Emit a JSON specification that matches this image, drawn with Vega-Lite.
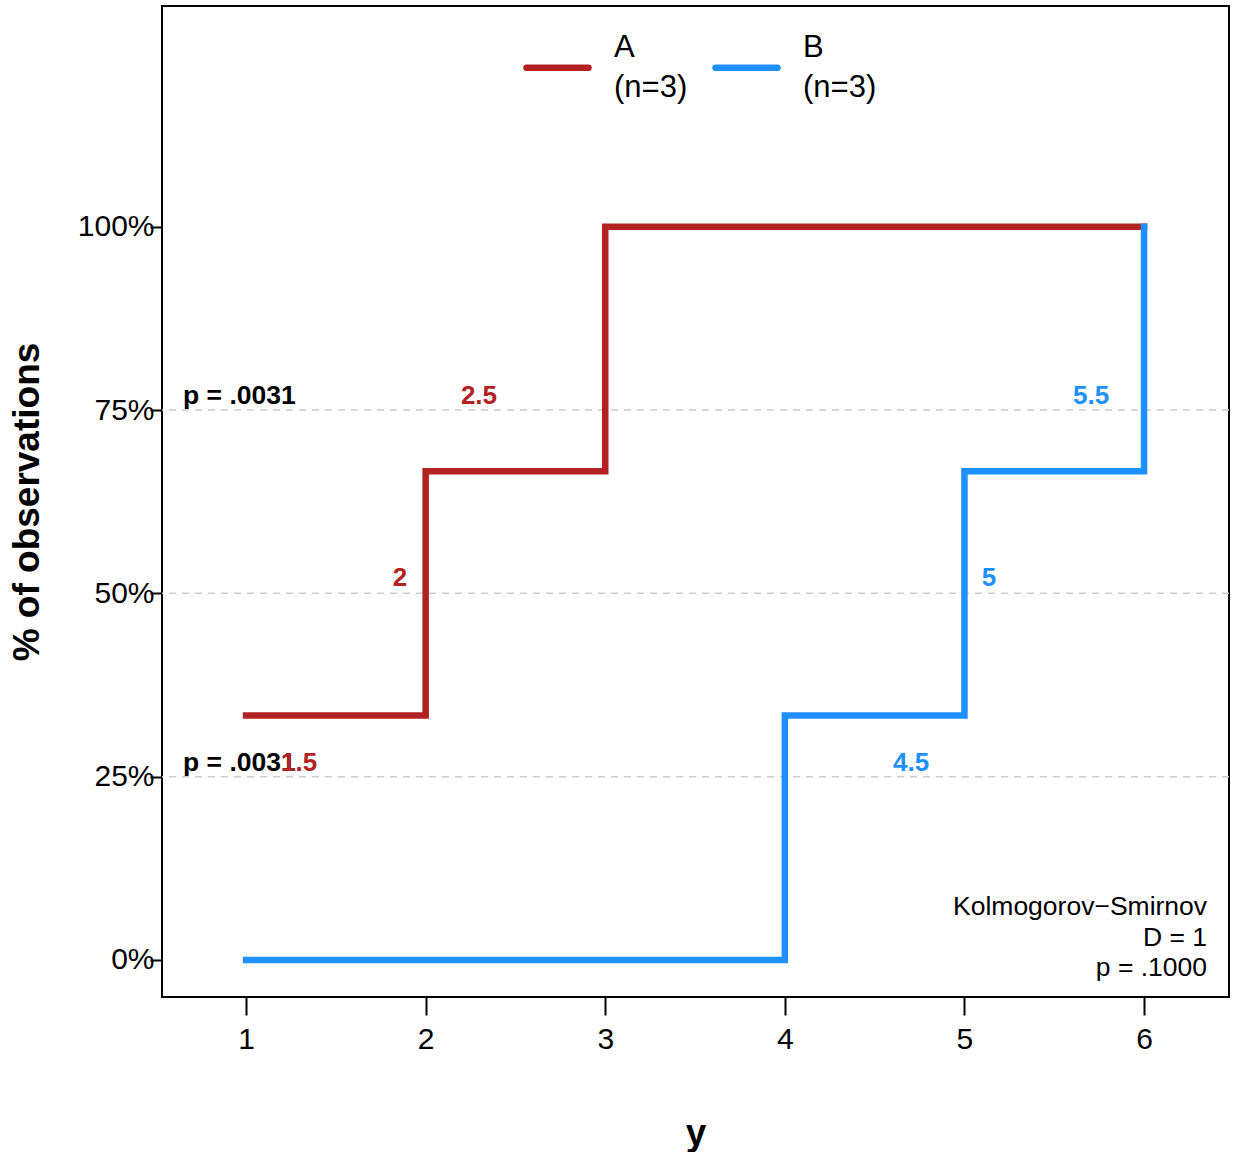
{
  "$schema": "https://vega.github.io/schema/vega-lite/v6.json",
  "width": 1067,
  "height": 991,
  "autosize": {"type": "none"},
  "padding": {"left": 162, "top": 6, "right": 8, "bottom": 155},
  "background": "white",
  "config": {
    "view": {"stroke": "black", "strokeWidth": 2},
    "font": "Liberation Sans"
  },
  "datasets": {
    "steps": [
      {"group": "A", "y": 1, "pct": 33.333},
      {"group": "A", "y": 2, "pct": 66.667},
      {"group": "A", "y": 3, "pct": 100},
      {"group": "A", "y": 6, "pct": 100},
      {"group": "B", "y": 1, "pct": 0},
      {"group": "B", "y": 4, "pct": 33.333},
      {"group": "B", "y": 5, "pct": 66.667},
      {"group": "B", "y": 6, "pct": 100}
    ],
    "grid": [{"pct": 25}, {"pct": 50}, {"pct": 75}],
    "pvals": [
      {"label": "p = .0031", "y": 0.649, "pct": 76.9},
      {"label": "p = .0031", "y": 0.649, "pct": 26.9}
    ],
    "cuts": [
      {"group": "A", "label": "2.5", "y": 2.297, "pct": 76.9},
      {"group": "A", "label": "2", "y": 1.857, "pct": 52.1},
      {"group": "A", "label": "1.5", "y": 1.295, "pct": 26.9},
      {"group": "B", "label": "5.5", "y": 5.705, "pct": 76.9},
      {"group": "B", "label": "5", "y": 5.137, "pct": 52.1},
      {"group": "B", "label": "4.5", "y": 4.703, "pct": 26.9}
    ],
    "ks": [
      {"label": "Kolmogorov\u2212Smirnov", "y": 6.351, "pct": 7.23},
      {"label": "D = 1", "y": 6.351, "pct": 3.0},
      {"label": "p = .1000", "y": 6.351, "pct": -1.09}
    ]
  },
  "encoding": {
    "x": {
      "field": "y", "type": "quantitative",
      "scale": {"domain": [0.532, 6.473], "nice": false, "zero": false},
      "axis": {
        "title": "y", "values": [1, 2, 3, 4, 5, 6], "format": "d",
        "grid": false, "domain": false,
        "tickSize": 18, "tickWidth": 2, "tickColor": "black",
        "labelFontSize": 30, "labelColor": "black", "labelPadding": 9,
        "titleFontSize": 37, "titleFontWeight": "bold", "titleColor": "black",
        "titlePadding": 61
      }
    },
    "y": {
      "field": "pct", "type": "quantitative",
      "scale": {"domain": [-5.05, 130.1], "nice": false, "zero": false},
      "axis": {
        "title": "% of observations", "values": [0, 25, 50, 75, 100],
        "labelExpr": "datum.value + '%'",
        "grid": false, "domain": false,
        "tickSize": 12, "tickWidth": 2, "tickColor": "black",
        "labelFontSize": 30, "labelColor": "black", "labelPadding": -4,
        "titleFontSize": 37, "titleFontWeight": "bold", "titleColor": "black",
        "titlePadding": 31
      }
    }
  },
  "layer": [
    {
      "data": {"name": "grid"},
      "mark": {"type": "rule", "color": "#CCCCCC", "strokeWidth": 1.5, "strokeDash": [7, 6]},
      "encoding": {"x": null, "y": {"field": "pct", "type": "quantitative"}}
    },
    {
      "data": {"name": "steps"},
      "mark": {"type": "line", "interpolate": "step-after", "strokeWidth": 6.5, "strokeCap": "square", "strokeJoin": "miter"},
      "encoding": {
        "color": {
          "field": "group", "type": "nominal",
          "scale": {"domain": ["A", "B"], "range": ["#B22222", "#1E90FF"]},
          "legend": {
            "title": null, "orient": "none", "direction": "horizontal",
            "legendX": 361, "legendY": 27,
            "symbolType": "stroke", "symbolSize": 3844, "symbolStrokeWidth": 6.5,
            "labelExpr": "[datum.label, '(n=3)']",
            "labelFontSize": 31, "labelColor": "black",
            "labelBaseline": "middle", "labelOffset": 22, "labelLimit": 0,
            "columnPadding": 14,
            "encode": {
              "labels": {"update": {"lineHeight": {"value": 40}, "dy": {"value": -20}}},
              "symbols": {"update": {"strokeCap": {"value": "round"}}}
            }
          }
        }
      }
    },
    {
      "data": {"name": "pvals"},
      "mark": {"type": "text", "align": "left", "baseline": "middle", "fontSize": 26.5, "fontWeight": "bold", "color": "black"},
      "encoding": {"text": {"field": "label"}}
    },
    {
      "data": {"name": "cuts"},
      "mark": {"type": "text", "align": "center", "baseline": "middle", "fontSize": 26, "fontWeight": "bold"},
      "encoding": {
        "text": {"field": "label"},
        "color": {"field": "group", "type": "nominal", "legend": null}
      }
    },
    {
      "data": {"name": "ks"},
      "mark": {"type": "text", "align": "right", "baseline": "middle", "fontSize": 26.5, "color": "black"},
      "encoding": {"text": {"field": "label"}}
    }
  ]
}
